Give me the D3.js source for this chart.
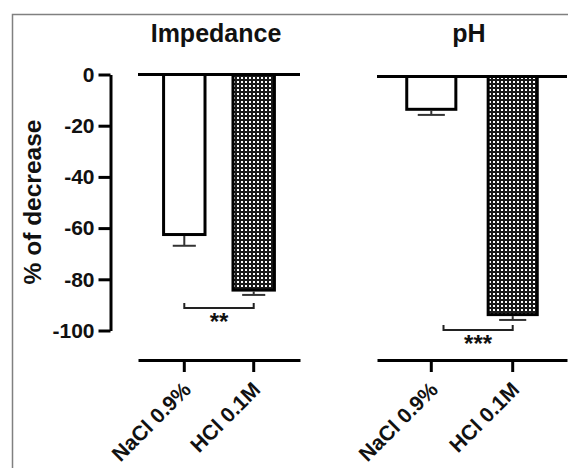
<!DOCTYPE html>
<html><head><meta charset="utf-8">
<script src="https://cdn.jsdelivr.net/npm/d3@7"></script>
<style>
html,body{margin:0;padding:0;background:#fff;}
svg{display:block;font-family:"Liberation Sans",Arial,sans-serif;}
</style></head>
<body>
<svg id="chart" width="568" height="468"></svg>
<script>
// ---- data ----
const panelTitles = ["Impedance", "pH"];
const categories = ["NaCl 0.9%", "HCl 0.1M"];
const impedanceMeans = [-63.1, -84.8];
const impedanceErrors = [3.8, 1.3];
const phMeans = [-13.4, -93.6];
const phErrors = [1.6, 1.5];
const yTicks = [0, -20, -40, -60, -80, -100];
const sigLabels = ["**", "***"];
const sigBracketStart = [0, 0.15];   // in category positions
const sigBracketEnd = [1, 1];
const sigBracketValue = [-91.2, -99.0];
const yLabel = "% of decrease";

// ---- layout ----
const svg = d3.select("#chart");
const defs = svg.append("defs");
const pat = defs.append("pattern").attr("id", "checker")
  .attr("patternUnits", "userSpaceOnUse").attr("width", 4).attr("height", 4);
pat.append("rect").attr("width", 4).attr("height", 4).attr("fill", "#1a1a1a");
pat.append("rect").attr("x", 1).attr("y", 1).attr("width", 2).attr("height", 2).attr("fill", "#fff");

// frame
svg.append("path").attr("d", "M12.5,468 L12.5,14.5 L568,14.5")
  .attr("fill", "none").attr("stroke", "#808080").attr("stroke-width", 1.5);

const panels = [
  {title: panelTitles[0], means: impedanceMeans, errs: impedanceErrors, xr: [138, 300], yr: [74.5, 330.5]},
  {title: panelTitles[1], means: phMeans, errs: phErrors, xr: [377, 567], yr: [76.5, 332.5]}
];

const bottomAxisY = 360;

// y axis (left)
const yMain = d3.scaleLinear().domain([0, -100]).range(panels[0].yr);
const yAxisG = svg.append("g").attr("transform", "translate(110.5,0)")
  .call(d3.axisLeft(yMain).tickValues(yTicks).tickFormat(d => String(d))
    .tickSize(12).tickSizeOuter(0).tickPadding(4));
yAxisG.select(".domain").attr("stroke", "#000").attr("stroke-width", 3);
yAxisG.selectAll(".tick line").attr("stroke", "#000").attr("stroke-width", 3);
yAxisG.selectAll(".tick text").attr("font-size", 21).attr("font-weight", "bold")
  .attr("fill", "#111").attr("font-family", "Liberation Sans, Arial, sans-serif");

svg.append("text").attr("transform", "translate(41,202) rotate(-90)")
  .attr("text-anchor", "middle").attr("font-size", 24.5).attr("font-weight", "bold")
  .attr("fill", "#111").text(yLabel);

panels.forEach((p, pi) => {
  const x = d3.scaleBand().domain(categories).range(p.xr).paddingInner(0.36).paddingOuter(0.347);
  const y = d3.scaleLinear().domain([0, -100]).range(p.yr);
  const g = svg.append("g");
  const bw = x.bandwidth();
  const cx = i => x(categories[i]) + bw / 2;

  // title
  g.append("text").attr("x", (p.xr[0] + p.xr[1]) / 2 - 3).attr("y", 42)
    .attr("text-anchor", "middle").attr("font-size", 25).attr("font-weight", "bold")
    .attr("fill", "#111").text(p.title);

  // error bars (downward)
  const capW = bw * 0.52;
  p.means.forEach((m, i) => {
    g.append("line").attr("x1", cx(i)).attr("x2", cx(i))
      .attr("y1", y(m)).attr("y2", y(m - p.errs[i]))
      .attr("stroke", "#333").attr("stroke-width", 2);
    g.append("line").attr("x1", cx(i) - capW / 2).attr("x2", cx(i) + capW / 2)
      .attr("y1", y(m - p.errs[i])).attr("y2", y(m - p.errs[i]))
      .attr("stroke", "#333").attr("stroke-width", 2);
  });

  // bars
  g.selectAll("rect.bar").data(p.means).join("rect").attr("class", "bar")
    .attr("x", (d, i) => x(categories[i]) + 1.5)
    .attr("width", bw - 3)
    .attr("y", y(0))
    .attr("height", d => y(d) - y(0) - 1.5)
    .attr("fill", (d, i) => i === 0 ? "#fff" : "url(#checker)")
    .attr("stroke", "#000").attr("stroke-width", 3);

  // zero line
  g.append("line").attr("x1", p.xr[0]).attr("x2", p.xr[1])
    .attr("y1", y(0)).attr("y2", y(0)).attr("stroke", "#000").attr("stroke-width", 3);

  // significance bracket
  const step = x.step();
  const bx1 = cx(0) + sigBracketStart[pi] * step;
  const bx2 = cx(0) + sigBracketEnd[pi] * step;
  const by = y(sigBracketValue[pi]);
  g.append("path").attr("d", `M${bx1},${by - 5} L${bx1},${by} L${bx2},${by} L${bx2},${by - 5}`)
    .attr("fill", "none").attr("stroke", "#222").attr("stroke-width", 2);
  g.append("text").attr("x", (bx1 + bx2) / 2).attr("y", by + 22)
    .attr("text-anchor", "middle").attr("font-size", 24).attr("font-weight", "bold")
    .attr("fill", "#111").text(sigLabels[pi]);

  // bottom category axis
  const xa = svg.append("g").attr("transform", `translate(0,${bottomAxisY})`)
    .call(d3.axisBottom(x).tickSize(12).tickSizeOuter(0));
  xa.select(".domain").attr("stroke", "#000").attr("stroke-width", 3);
  xa.selectAll(".tick line").attr("stroke", "#000").attr("stroke-width", 3);
  xa.selectAll(".tick text")
    .attr("font-size", 21).attr("font-weight", "bold").attr("fill", "#111")
    .attr("font-family", "Liberation Sans, Arial, sans-serif")
    .attr("text-anchor", "end").attr("dy", null).attr("y", null)
    .attr("transform", "translate(8,31) rotate(-45)");
});
</script>
</body></html>
